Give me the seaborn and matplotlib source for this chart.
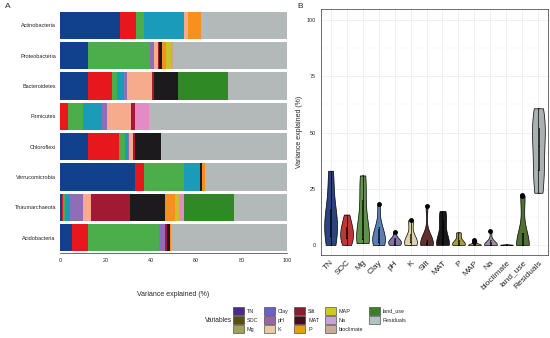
import matplotlib
matplotlib.use("Agg")
import matplotlib.pyplot as plt
from matplotlib.patches import Patch
from matplotlib.ticker import MultipleLocator
import numpy as np
import pandas as pd
import seaborn as sns

# ---------------- data ----------------
phyla = ["Actinobacteria", "Proteobacteria", "Bacteroidetes", "Firmicutes",
         "Chloroflexi", "Verrucomicrobia", "Thaumarchaeota", "Acidobacteria"]
variables = ["TN", "SOC", "Mg", "Clay", "pH", "K", "Silt", "MAT", "P", "MAP",
             "Na", "bioclimate", "land_use", "Residuals"]

TN = [26.5, 12.5, 12.5, 0.0, 12.5, 33.0, 0.7, 5.1]
SOC = [7.0, 0.0, 10.3, 3.7, 13.5, 4.0, 0.7, 7.4]
Mg = [3.3, 27.2, 2.2, 6.6, 2.5, 17.7, 0.8, 30.9]
Clay = [18.0, 0.0, 3.2, 8.0, 1.5, 7.0, 2.2, 0.0]
pH = [0.0, 1.8, 1.2, 2.3, 0.5, 0.0, 5.9, 2.9]
K = [1.5, 1.5, 11.0, 10.5, 1.5, 0.0, 3.2, 0.0]
Silt = [0.0, 0.5, 1.0, 2.0, 1.0, 0.0, 17.5, 1.0]
MAT = [0.0, 1.5, 10.8, 0.0, 11.7, 1.0, 15.1, 1.2]
P = [5.6, 1.5, 0.0, 0.0, 0.0, 1.2, 4.7, 0.5]
MAP = [0.0, 2.2, 0.0, 0.0, 0.0, 0.0, 1.5, 0.0]
Na = [0.0, 0.7, 0.0, 6.0, 0.0, 0.0, 2.2, 0.0]
bioclimate = [0.1, 0.2, 0.0, 0.1, 0.0, 0.1, 0.3, 0.0]
land_use = [0.0, 0.0, 21.8, 0.0, 0.0, 0.0, 22.0, 0.0]
Residuals = [38.0, 50.4, 26.0, 60.8, 55.3, 36.0, 23.2, 51.0]

series = [TN, SOC, Mg, Clay, pH, K, Silt, MAT, P, MAP, Na, bioclimate, land_use, Residuals]

bar_colors = ["#11408c", "#e8171d", "#4bae4a", "#1b9bba", "#8e6fb5", "#f6ab8c",
              "#a11a33", "#1c1a1c", "#f7901e", "#c9c22a", "#e48bc5", "#c9a88e",
              "#2f8a25", "#b3b8b8"]
violin_colors = ["#1d3d8f", "#d42020", "#5c9e3e", "#4a7dc4", "#7b6bb0", "#e5d6a0",
                 "#6b2626", "#1a1a1a", "#b5ad2e", "#b8b640", "#9c8aa6", "#b0a090",
                 "#4f7a2a", "#aab2b2"]
legend_colors = ["#4a2a8a", "#58500e", "#a3a157", "#6b62c9", "#9a65a8", "#e8cba0",
                 "#8b1d32", "#4c0a1a", "#e3a112", "#cccb26", "#c9a3d8", "#c9ab98",
                 "#3d7f27", "#b3c3c3"]

rows = []
for v, vals in zip(variables, series):
    for ph, val in zip(phyla, vals):
        rows.append({"phylum": ph, "variable": v, "value": val})
df = pd.DataFrame(rows)

# ---------------- figure ----------------
sns.set_style("white")
plt.rcParams["font.family"] = ["Liberation Sans", "DejaVu Sans"]

fig = plt.figure(figsize=(5.5, 3.38), dpi=100)
axA = fig.add_axes([60 / 550, 1 - 253 / 338, 227 / 550, 243 / 338])
axB = fig.add_axes([321 / 550, 1 - 255 / 338, 227 / 550, 246 / 338])

# ---- Panel A: stacked horizontal bars ----
sns.histplot(data=df, y="phylum", weights="value", hue="variable",
             hue_order=variables[::-1], multiple="stack", discrete=True,
             shrink=0.9, alpha=1, linewidth=0,
             palette=dict(zip(variables, bar_colors)), legend=False, ax=axA)
axA.set_xlim(0, 100)
axA.set_ylim(7.5, -0.5)
axA.set_xticks([0, 20, 40, 60, 80, 100])
axA.set_ylabel("")
axA.set_xlabel("Variance explained (%)", fontsize=5, labelpad=20)
axA.tick_params(axis="x", labelsize=3.9, length=2, width=0.4, pad=1.5, color="#333333")
axA.tick_params(axis="y", labelsize=4, length=0, pad=3)
for s in ["top", "right", "left"]:
    axA.spines[s].set_visible(False)
axA.spines["bottom"].set_linewidth(0.5)
axA.spines["bottom"].set_color("#333333")

# ---- Panel B: violins ----
sns.violinplot(data=df, x="variable", y="value", hue="variable", order=variables,
               hue_order=variables, palette=dict(zip(variables, violin_colors)),
               cut=0, density_norm="width", inner=None, width=0.8,
               linewidth=0.5, linecolor="black", legend=False, ax=axB)
sns.boxplot(data=df, x="variable", y="value", order=variables, width=0.08,
            fill=False, color="black", linewidth=0.5, fliersize=2.5,
            flierprops=dict(marker="o", markerfacecolor="black",
                            markeredgecolor="black"), ax=axB)
axB.set_xlim(-0.6, 13.6)
axB.set_ylim(-4.5, 105)
axB.set_yticks([0, 25, 50, 75, 100])
axB.yaxis.set_minor_locator(MultipleLocator(12.5))
axB.set_axisbelow(True)
axB.grid(which="major", color="#ebebeb", linewidth=0.5)
axB.grid(which="minor", axis="y", color="#f4f4f4", linewidth=0.3)
axB.tick_params(which="minor", length=0)
axB.tick_params(axis="y", labelsize=3.9, length=2, width=0.4, pad=1.5, color="#333333")
axB.tick_params(axis="x", labelsize=6, length=2, width=0.4, pad=1, color="#333333")
for lab in axB.get_xticklabels():
    lab.set_rotation(45)
    lab.set_ha("right")
    lab.set_rotation_mode("anchor")
axB.set_xlabel("")
axB.set_ylabel("Variance explained (%)", fontsize=5, labelpad=3)
for s in axB.spines.values():
    s.set_linewidth(0.5)
    s.set_color("#333333")

# ---- Legend ----
handles = [Patch(facecolor=c, edgecolor="#333333", linewidth=0.4, label=v)
           for v, c in zip(variables, legend_colors)]
fig.legend(handles=handles, ncol=5, loc="center left",
           bbox_to_anchor=(230 / 550, 1 - 320 / 338), frameon=False,
           fontsize=3.9, handlelength=2.0, handleheight=2.0, handletextpad=0.6,
           columnspacing=1.0, labelspacing=0.15, borderpad=0)
fig.text(205 / 550, 1 - 320 / 338, "Variables", fontsize=4.8, va="center", ha="left")

fig.text(5 / 550, 1 - 7 / 338, "A", fontsize=6, va="center", ha="left")
fig.text(297 / 550, 1 - 7 / 338, "B", fontsize=6, va="center", ha="left")

fig.savefig("out.png", dpi=100)
